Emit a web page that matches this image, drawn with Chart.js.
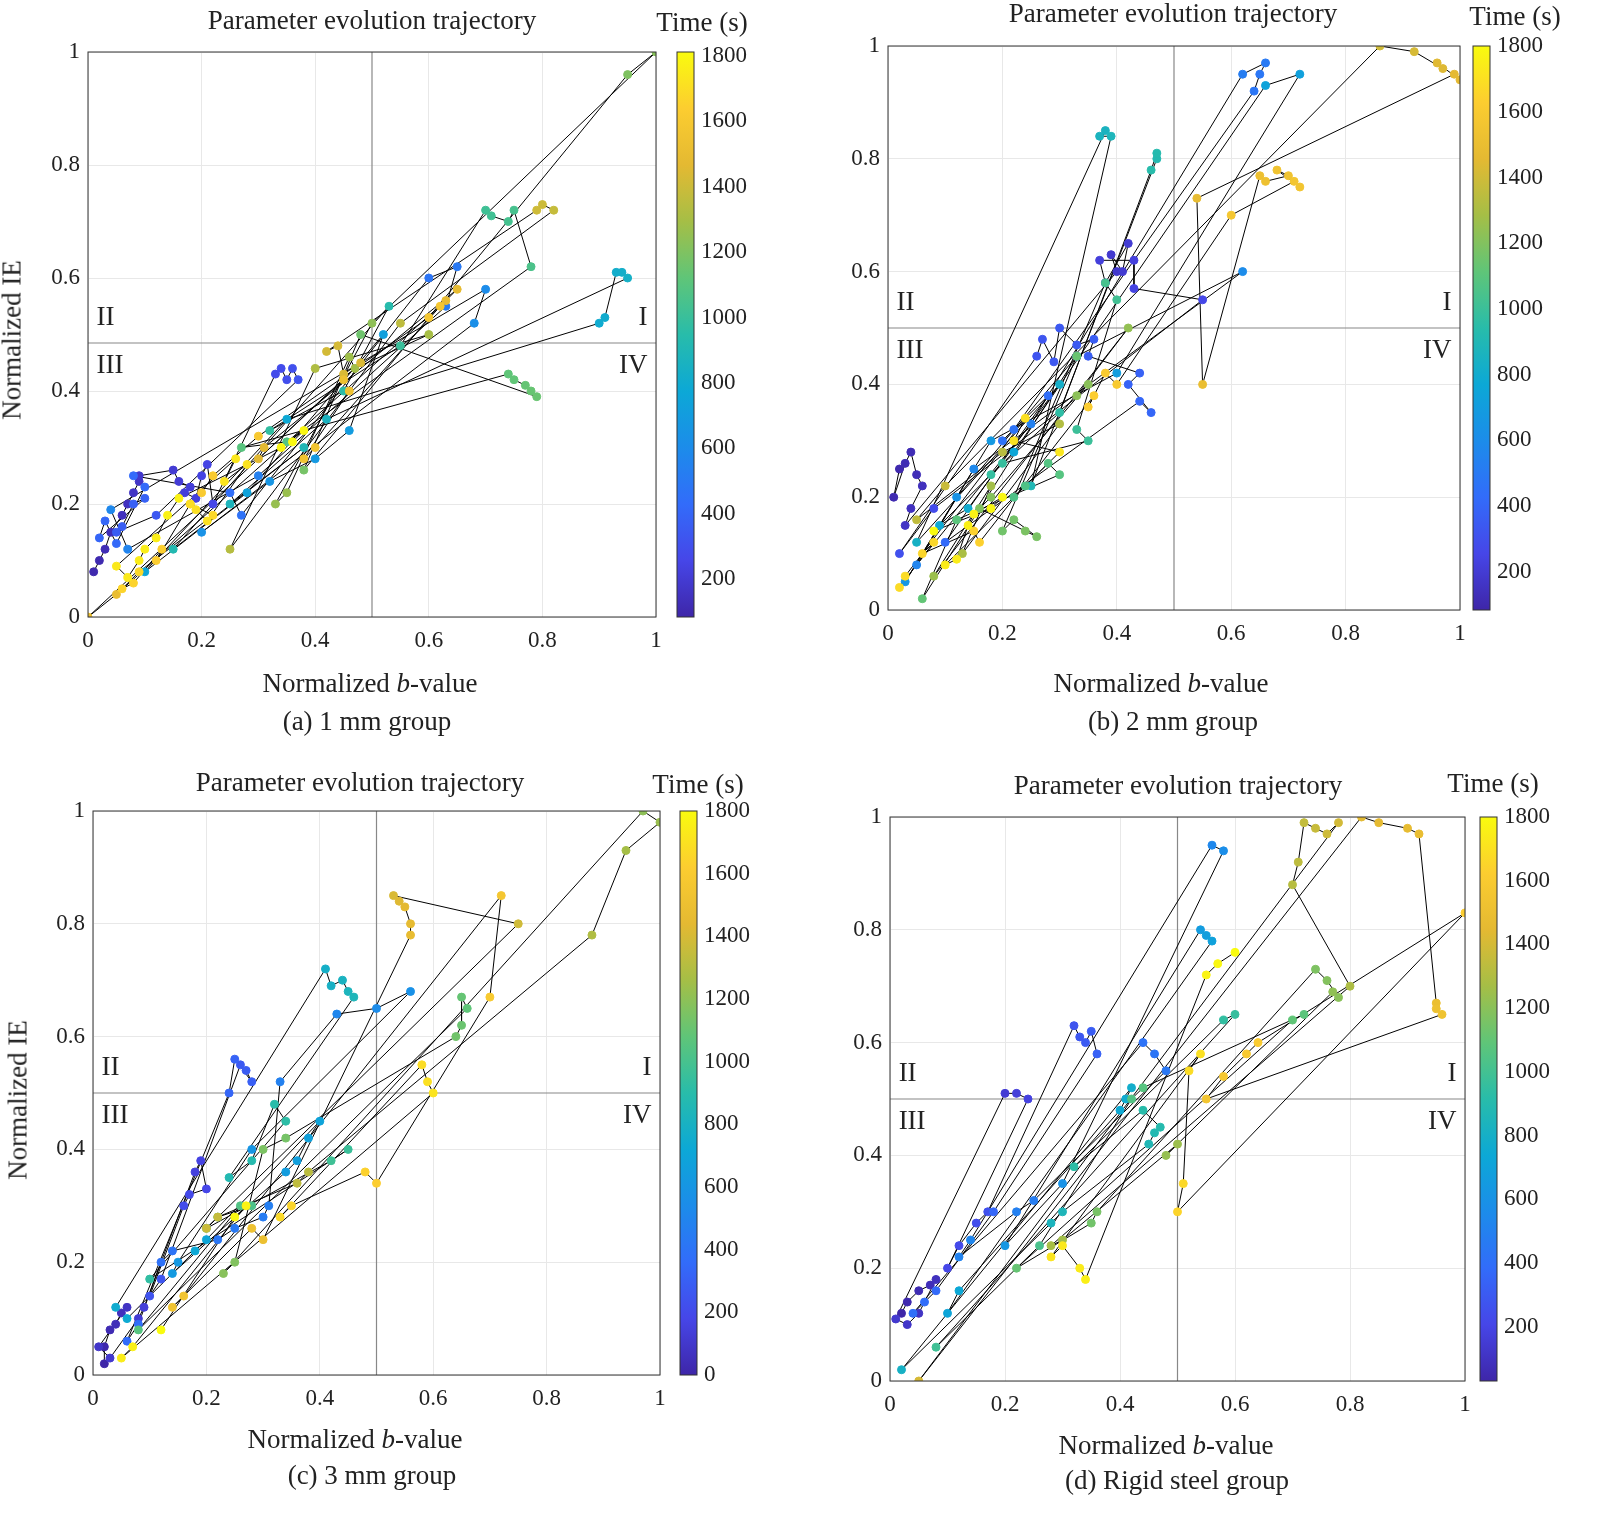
<!DOCTYPE html>
<html><head><meta charset="utf-8">
<script src="https://cdn.jsdelivr.net/npm/chart.js@4"></script>
<style>
body{margin:0;width:1600px;height:1528px;background:#fff;position:relative;overflow:hidden;font-family:"Liberation Serif","DejaVu Serif",serif;color:#222}
canvas{position:absolute;left:0}
.t{position:absolute;white-space:nowrap;font-size:27px;transform:translate(-50%,-50%)}
.yl{position:absolute;white-space:nowrap;font-size:27px;transform:translate(-50%,-50%) rotate(-90deg)}
</style></head><body>
<canvas id="ca" width="1600" height="1528" style="top:-100px"></canvas>
<canvas id="cb" width="1600" height="1528" style="top:-100px"></canvas>
<canvas id="cc" width="1600" height="1528" style="top:0"></canvas>
<canvas id="cd" width="1600" height="1528" style="top:0"></canvas>
<div class="t" style="left:372px;top:20px">Parameter evolution trajectory</div>
<div class="t" style="left:702px;top:22px">Time (s)</div>
<div class="t" style="left:1173px;top:13px">Parameter evolution trajectory</div>
<div class="t" style="left:1515px;top:16px">Time (s)</div>
<div class="t" style="left:360px;top:782px">Parameter evolution trajectory</div>
<div class="t" style="left:698px;top:784px">Time (s)</div>
<div class="t" style="left:1178px;top:785px">Parameter evolution trajectory</div>
<div class="t" style="left:1493px;top:783px">Time (s)</div>
<div class="t" style="left:370px;top:683px">Normalized <i>b</i>-value</div>
<div class="t" style="left:367px;top:721px">(a) 1 mm group</div>
<div class="t" style="left:1161px;top:683px">Normalized <i>b</i>-value</div>
<div class="t" style="left:1173px;top:721px">(b) 2 mm group</div>
<div class="t" style="left:355px;top:1439px">Normalized <i>b</i>-value</div>
<div class="t" style="left:372px;top:1475px">(c) 3 mm group</div>
<div class="t" style="left:1166px;top:1445px">Normalized <i>b</i>-value</div>
<div class="t" style="left:1177px;top:1480px">(d) Rigid steel group</div>
<div class="yl" style="left:12px;top:340px">Normalized IE</div>
<div class="yl" style="left:18px;top:1100px">Normalized IE</div>
<script>
const axisTicks=[0,0.2,0.4,0.6,0.8,1];
const timeTicks=[200,400,600,800,1000,1200,1400,1600,1800];
const timeTicksC=[0,200,400,600,800,1000,1200,1400,1600,1800];

const aT=[100,120,140,160,180,200,220,240,260,280,300,320,340,360,380,400,420,440,460,480,500,520,540,560,580,600,620,640,660,680,700,720,740,760,780,800,820,840,860,880,900,920,940,960,980,1000,1020,1040,1060,1080,1100,1120,1140,1160,1180,1200,1220,1240,1260,1280,1300,1320,1340,1360,1380,1400,1420,1440,1460,1480,1500,1520,1540,1560,1580,1600,1620,1640,1660,1680,1700,1720,1740,1760,1780,1800];
const aB=[.01,.03,.06,.08,.09,.15,.17,.20,.22,.33,.36,.37,.12,.05,.08,.02,.10,.25,.27,.60,.65,.63,.30,.07,.04,.70,.68,.20,.32,.40,.46,.52,.28,.10,.35,.90,.93,.95,.42,.25,.38,.15,.53,.45,.32,.55,.70,.74,.78,.35,.27,.74,.78,.48,.38,.95,1.0,.50,.33,.46,.60,.40,.25,.55,.82,.80,.42,.48,.30,.65,.05,.00,.45,.38,.62,.30,.20,.12,.08,.22,.18,.28,.05,.10,.16,.36];
const aIE=[.08,.12,.18,.22,.25,.26,.22,.25,.20,.43,.44,.42,.18,.15,.20,.14,.23,.22,.18,.60,.62,.55,.25,.12,.19,.58,.52,.15,.24,.28,.33,.50,.22,.08,.35,.52,.61,.60,.35,.20,.30,.12,.55,.40,.33,.48,.72,.70,.62,.31,.30,.43,.40,.50,.26,.96,1.0,.52,.20,.46,.50,.44,.12,.52,.72,.73,.47,.45,.28,.58,.04,.00,.42,.28,.55,.32,.22,.10,.06,.18,.20,.27,.09,.12,.21,.31];
const aT2=[1705,1715,1725,1735,1745,1755,1765,1775,1785,1795,1665,1675,1645,1615,1625,205,215,225,245,285,295,105,125,145,165,405,415,425,365,385,805,825,1125,1135,1145,1025,1045,1405,1425,1435,1465,1485,1545,1565,1585,1265,1285];
const aB2=[.19,.21,.24,.26,.07,.09,.12,.14,.34,.38,.06,.09,.13,.22,.18,.16,.18,.19,.21,.34,.35,.02,.04,.07,.09,.03,.05,.08,.06,.10,.91,.94,.75,.77,.79,.71,.75,.79,.44,.45,.31,.63,.46,.40,.60,.35,.47];
const aIE2=[.19,.17,.24,.28,.07,.10,.14,.18,.30,.33,.05,.08,.12,.25,.20,.24,.23,.21,.27,.44,.42,.10,.15,.20,.24,.17,.13,.25,.16,.21,.53,.61,.42,.41,.39,.71,.72,.72,.48,.43,.30,.56,.40,.30,.53,.22,.44];

const bT=[100,120,140,160,180,200,220,240,260,280,300,320,340,360,380,400,420,440,460,480,500,520,540,560,580,600,620,640,660,680,700,720,740,760,780,800,820,840,860,880,900,920,940,960,980,1000,1020,1040,1060,1080,1100,1120,1140,1160,1180,1200,1220,1240,1260,1280,1300,1320,1340,1360,1380,1400,1420,1440,1460,1480,1500,1520,1540,1560,1580,1600,1620,1640,1660,1680,1700,1720,1740,1760,1780,1800];
const bB=[.02,.04,.06,.03,.40,.42,.37,.43,.55,.08,.02,.26,.30,.36,.44,.46,.10,.28,.20,.64,.66,.62,.25,.05,.15,.62,.33,.12,.03,.18,.40,.72,.66,.22,.09,.14,.30,.05,.38,.39,.25,.47,.46,.30,.18,.35,.40,.38,.22,.28,.12,.06,.33,.20,.26,.16,.35,.42,.08,.18,.13,.30,.20,.05,.10,.86,.92,.97,1.0,.54,.55,.65,.70,.72,.60,.40,.35,.16,.06,.02,.24,.30,.10,.14,.20,.08];
const bIE=[.25,.28,.22,.15,.60,.65,.62,.57,.55,.18,.10,.45,.50,.48,.42,.35,.12,.38,.30,.92,.97,.95,.33,.08,.25,.60,.45,.20,.05,.30,.42,.95,.93,.28,.15,.18,.40,.12,.85,.84,.22,.80,.78,.35,.24,.30,.55,.58,.20,.26,.16,.02,.45,.14,.13,.18,.40,.50,.06,.22,.10,.33,.28,.16,.22,1.0,.99,.96,.94,.73,.40,.77,.77,.75,.70,.40,.36,.12,.10,.04,.34,.28,.08,.15,.20,.14];
const bT2=[105,115,125,145,185,195,205,225,325,335,345,365,385,405,465,485,865,925,985,1005,1065,1085,1165,1185,1205,1225,1525,1545,1565,1605,1625,1645,1665,1685,1705,1745,1765,1785,1445,1465];
const bB2=[.01,.03,.05,.04,.39,.41,.38,.43,.27,.29,.33,.35,.42,.44,.22,.65,.37,.47,.20,.33,.24,.30,.22,.24,.18,.33,.66,.68,.71,.38,.36,.15,.08,.03,.22,.12,.15,.18,.96,.99];
const bIE2=[.20,.26,.24,.18,.63,.60,.58,.62,.48,.44,.47,.45,.40,.37,.32,.95,.84,.81,.26,.32,.22,.24,.16,.14,.20,.38,.76,.78,.76,.42,.38,.14,.12,.06,.30,.09,.17,.18,.97,.95];

const cT=[0,30,60,90,120,150,180,210,240,270,300,330,360,390,420,450,480,510,540,570,600,630,660,690,720,750,780,810,840,870,900,930,960,990,1020,1050,1080,1110,1140,1170,1200,1230,1260,1290,1320,1350,1380,1410,1440,1470,1500,1530,1560,1590,1620,1650,1680,1710,1740,1770,1800];
const cB=[.02,.03,.05,.01,.08,.18,.20,.16,.10,.26,.28,.24,.06,.12,.22,.30,.33,.43,.50,.56,.28,.14,.36,.40,.18,.04,.41,.44,.46,.24,.32,.10,.45,.20,.28,.08,.66,.65,.34,.25,.97,1.0,.94,.88,.38,.22,.75,.53,.55,.56,.30,.14,.72,.70,.50,.35,.58,.60,.05,.27,.12];
const cIE=[.02,.08,.11,.05,.10,.36,.33,.30,.14,.55,.52,.50,.06,.20,.24,.28,.52,.64,.65,.68,.40,.18,.38,.45,.22,.12,.72,.70,.67,.35,.48,.17,.40,.26,.30,.08,.65,.62,.42,.20,1.0,.98,.93,.78,.36,.28,.80,.85,.83,.78,.24,.12,.85,.67,.34,.30,.55,.50,.03,.30,.08];
const cT2=[15,45,75,105,135,165,195,255,285,315,375,405,435,465,615,645,675,705,735,795,825,885,915,975,1005,1035,1095,1125,1155,1185,1335,1365,1425,1455,1515,1545,1635,1665,1695,1755,1785];
const cB2=[.02,.04,.06,.03,.09,.19,.17,.12,.27,.25,.08,.14,.25,.31,.15,.34,.38,.20,.06,.42,.45,.28,.34,.42,.22,.26,.65,.64,.30,.23,.36,.20,.54,.56,.28,.16,.48,.33,.59,.07,.25];
const cIE2=[.05,.09,.12,.03,.12,.38,.32,.17,.54,.56,.09,.22,.26,.30,.20,.36,.42,.24,.10,.69,.68,.38,.45,.38,.28,.30,.67,.60,.40,.18,.34,.26,.84,.80,.26,.14,.36,.28,.52,.05,.28];

const dT=[30,60,90,120,150,180,210,240,270,300,330,360,390,420,450,480,510,540,570,600,630,660,690,720,750,780,810,840,870,900,930,960,990,1020,1050,1080,1110,1140,1170,1200,1230,1260,1290,1320,1350,1380,1410,1440,1470,1500,1530,1560,1590,1620,1650,1680,1710,1740,1770,1800];
const dB=[.02,.05,.08,.03,.20,.24,.10,.15,.32,.34,.36,.18,.06,.44,.48,.25,.12,.56,.58,.30,.20,.54,.56,.10,.40,.42,.02,.28,.45,.47,.32,.60,.08,.26,.42,.72,.22,.35,.74,.78,.48,.30,.80,.70,.72,.76,.05,.82,.90,.95,.96,.55,.62,1.0,.50,.52,.28,.33,.55,.60];
const dIE=[.12,.16,.18,.10,.51,.50,.20,.28,.63,.60,.58,.30,.14,.60,.55,.32,.22,.95,.94,.35,.24,.80,.78,.12,.48,.52,.02,.28,.42,.45,.38,.65,.06,.24,.50,.65,.20,.28,.73,.68,.40,.25,.70,.88,.99,.97,.00,1.0,.98,.67,.65,.50,.58,.83,.30,.55,.22,.20,.72,.76];
const dT2=[45,75,105,135,165,225,255,285,315,375,405,435,495,525,675,735,765,855,885,915,945,1065,1095,1155,1185,1215,1245,1275,1335,1365,1395,1455,1485,1515,1575,1605,1665,1695,1725,1755,1785];
const dB2=[.03,.07,.05,.01,.22,.12,.17,.33,.35,.08,.04,.46,.22,.14,.55,.12,.41,.30,.46,.44,.58,.44,.70,.36,.76,.77,.50,.28,.71,.74,.78,.85,.92,.95,.58,.64,.51,.54,.30,.34,.57];
const dIE2=[.14,.17,.12,.11,.51,.24,.30,.61,.62,.16,.12,.58,.30,.25,.79,.16,.50,.30,.44,.48,.64,.52,.64,.30,.71,.69,.42,.24,.92,.98,.99,.99,.97,.66,.54,.60,.35,.58,.24,.18,.74];

const parula=[[0,[62,38,168]],[0.1,[70,70,232]],[0.2,[50,108,250]],[0.3,[28,140,234]],[0.4,[12,168,214]],[0.5,[40,188,170]],[0.6,[95,197,120]],[0.7,[165,190,70]],[0.8,[228,185,50]],[0.9,[252,205,48]],[1,[249,251,14]]];
function cmap(f){f=Math.max(0,Math.min(1,f));for(let i=1;i<parula.length;i++){if(f<=parula[i][0]){const[a,ca]=parula[i-1],[b,cb]=parula[i];const u=(f-a)/(b-a);return 'rgb('+ca.map((v,k)=>Math.round(v+(cb[k]-v)*u)).join(',')+')';}}return 'rgb(249,251,14)';}

const FONT={family:'Liberation Serif',size:23};
function make(id,B,IE,T,B2,IE2,T2,P){
  const rows=T.map((t,i)=>[t,B[i],IE[i]]).concat(T2.map((t,i)=>[t,B2[i],IE2[i]])).sort((p,q)=>p[0]-q[0]);
  const pts=rows.map(r=>({x:r[1],y:r[2]}));
  const cols=rows.map(r=>cmap((r[0]-P.tmin)/(P.tmax-P.tmin)));
  const W=1600,H=1528,off=P.off;
  const plug={id:'x'+id,
    afterDraw(c){const a=c.chartArea,ctx=c.ctx,sx=c.scales.x,sy=c.scales.y,s2=c.scales.y2;
      ctx.save();ctx.strokeStyle='#333';ctx.lineWidth=1;ctx.strokeRect(a.left,a.top,a.right-a.left,a.bottom-a.top);
      const y0=s2.getPixelForValue(P.tmin),y1=s2.getPixelForValue(P.tmax);
      const g=ctx.createLinearGradient(0,y0,0,y1);
      for(let i=0;i<=20;i++)g.addColorStop(i/20,cmap(i/20));
      ctx.fillStyle=g;ctx.fillRect(P.cbL,y1,17,y0-y1);
      ctx.strokeStyle='#333';ctx.strokeRect(P.cbL,y1,17,y0-y1);
      ctx.fillStyle='#222';ctx.font='27px "Liberation Serif",serif';ctx.textBaseline='middle';
      const q=P.q;
      ctx.textAlign='left';
      ctx.fillText('II',sx.getPixelForValue(0.015),sy.getPixelForValue(q+0.045));
      ctx.fillText('III',sx.getPixelForValue(0.015),sy.getPixelForValue(q-0.04));
      ctx.textAlign='right';
      ctx.fillText('I',sx.getPixelForValue(0.985),sy.getPixelForValue(q+0.045));
      ctx.fillText('IV',sx.getPixelForValue(0.985),sy.getPixelForValue(q-0.04));
      ctx.restore();}};
  new Chart(document.getElementById(id),{
    data:{datasets:[
      {type:'line',data:[{x:0.5,y:0},{x:0.5,y:1}],borderColor:'#888',borderWidth:1.2,pointRadius:0,order:5},
      {type:'line',data:[{x:0,y:P.q},{x:1,y:P.q}],borderColor:'#888',borderWidth:1.2,pointRadius:0,order:5},
      {type:'line',data:pts,borderColor:'#000',borderWidth:1,pointRadius:0,order:4},
      {type:'scatter',data:pts,backgroundColor:cols,borderColor:cols,pointRadius:4,order:1}
    ]},
    options:{responsive:false,animation:false,events:[],
      layout:{padding:{left:P.L-50,top:P.T+off,right:W-(P.cbL+95),bottom:H-(P.Bt+off)-42}},
      plugins:{legend:{display:false},tooltip:{enabled:false}},
      scales:{
        x:{type:'linear',min:0,max:1,afterBuildTicks:s=>{s.ticks=axisTicks.map(v=>({value:v}))},afterFit:s=>{s.height=42},
          grid:{color:'#e8e8e8',drawTicks:false},border:{display:false},
          ticks:{font:FONT,color:'#222',padding:10,maxRotation:0,callback:v=>String(v)}},
        y:{type:'linear',min:0,max:1,afterBuildTicks:s=>{s.ticks=axisTicks.map(v=>({value:v}))},afterFit:s=>{s.width=50},
          grid:{color:'#e8e8e8',drawTicks:false},border:{display:false},
          ticks:{font:FONT,color:'#222',padding:8,callback:v=>String(v)}},
        y2:{type:'linear',position:'right',min:P.tmin,max:P.tmax,afterBuildTicks:s=>{s.ticks=P.tt.map(v=>({value:v}))},
          afterFit:s=>{s.width=P.cbL+95-P.R},grid:{display:false,drawTicks:false},border:{display:false},
          ticks:{font:FONT,color:'#222',padding:P.cbL+24-P.R,callback:v=>String(v)}}
      }}
    ,plugins:[plug]});
}
make('ca',aB,aIE,aT,aB2,aIE2,aT2,{L:88,R:656,T:52,Bt:617,cbL:677,tmin:84,tmax:1812,q:0.485,tt:timeTicks,off:100});
make('cb',bB,bIE,bT,bB2,bIE2,bT2,{L:888,R:1460,T:46,Bt:610,cbL:1473,tmin:84,tmax:1800,q:0.5,tt:timeTicks,off:100});
make('cc',cB,cIE,cT,cB2,cIE2,cT2,{L:93,R:660,T:811,Bt:1375,cbL:680,tmin:0,tmax:1800,q:0.5,tt:timeTicksC,off:0});
make('cd',dB,dIE,dT,dB2,dIE2,dT2,{L:890,R:1465,T:817,Bt:1381,cbL:1480,tmin:29,tmax:1800,q:0.5,tt:timeTicks,off:0});
</script></body></html>
